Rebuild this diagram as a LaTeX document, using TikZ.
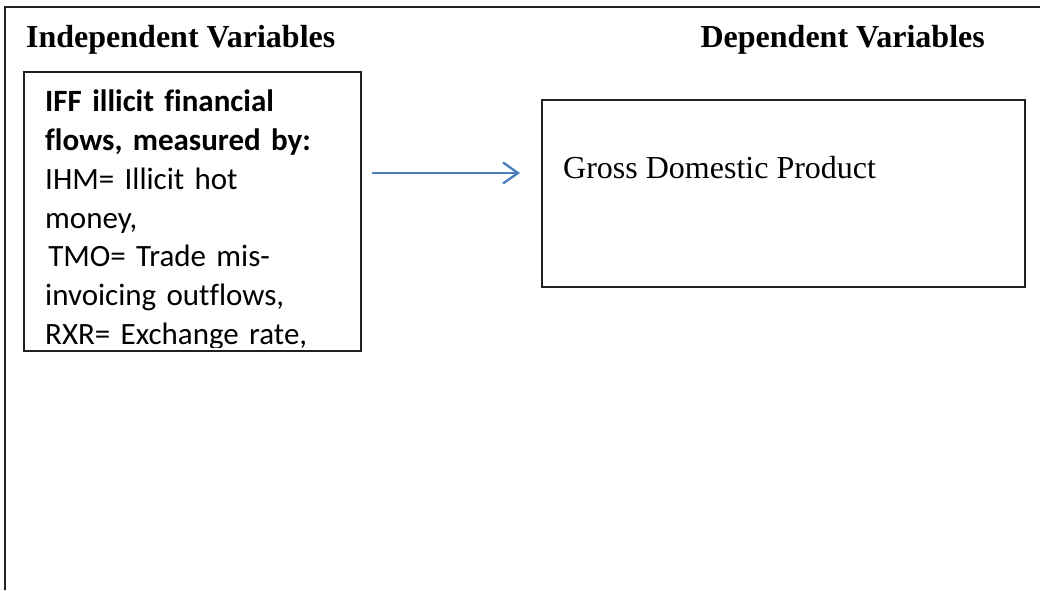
\documentclass[tikz,border=0pt]{standalone}
\usepackage{fontspec}
\setmainfont{Liberation Serif}
\newfontfamily\calibrifont[Ligatures=NoCommon]{Carlito}
\usetikzlibrary{arrows.meta}
\definecolor{arrblue}{HTML}{4A7EBB}
\definecolor{edgegray}{HTML}{202020}
\tikzset{
  boxframe/.style={draw=edgegray, line width=1.3pt, inner sep=0pt, outer sep=0pt, anchor=north west},
  heading/.style={font=\fontsize{32}{38}\selectfont\bfseries, inner sep=0pt},
  bodytext/.style={font=\fontsize{32}{38}\selectfont, inner sep=0pt},
  lefttext/.style={font=\calibrifont\fontsize{31}{38.8}\selectfont, inner sep=0pt, text width=330pt, align=left, anchor=north west},
  flowarrow/.style={draw=arrblue, line width=2.3pt, -{Straight Barb[length=15pt, width=21pt, line width=2.3pt]}}
}
\begin{document}
\begin{tikzpicture}[x=1pt, y=-1pt]
\useasboundingbox (0,0) rectangle (1040,590);
% outer frame (left and top edges visible)
\coordinate (fbl) at (5,590);
\coordinate (ftl) at (5,7);
\coordinate (ftr) at (1040,7);
\draw[edgegray, line width=1.3pt] (fbl) -- (ftl) -- (ftr);
% headings
\node[heading, anchor=base west] (ivh) at (26,47) {Independent Variables};
\node[heading, anchor=base east] (dvh) at (985,47) {Dependent Variables};
% independent variable box
\node[boxframe, minimum width=337pt, minimum height=279pt] (iv) at (24,72) {};
\begin{scope}
  \clip ([xshift=1pt,yshift=4pt]iv.south west) rectangle ([xshift=-1pt,yshift=-1pt]iv.north east);
  \node[lefttext] (ivt) at (45,84.3) {\strut\textbf{IFF illicit financial}\\
\textbf{flows, measured by:}\\
IHM= Illicit hot\\
money,\\
\hspace*{0.1em}TMO= Trade mis-\\
invoicing outflows,\\
RXR= Exchange rate,\\
};
\end{scope}
% dependent variable box
\node[boxframe, minimum width=483pt, minimum height=187pt] (dv) at (542,100) {};
\node[bodytext, anchor=base west] (dvt) at (563,178) {Gross Domestic Product};
% arrow
\coordinate (as) at (372,173);
\coordinate (ae) at (520,173);
\draw[flowarrow] (as) -- (ae);
\end{tikzpicture}
\end{document}
